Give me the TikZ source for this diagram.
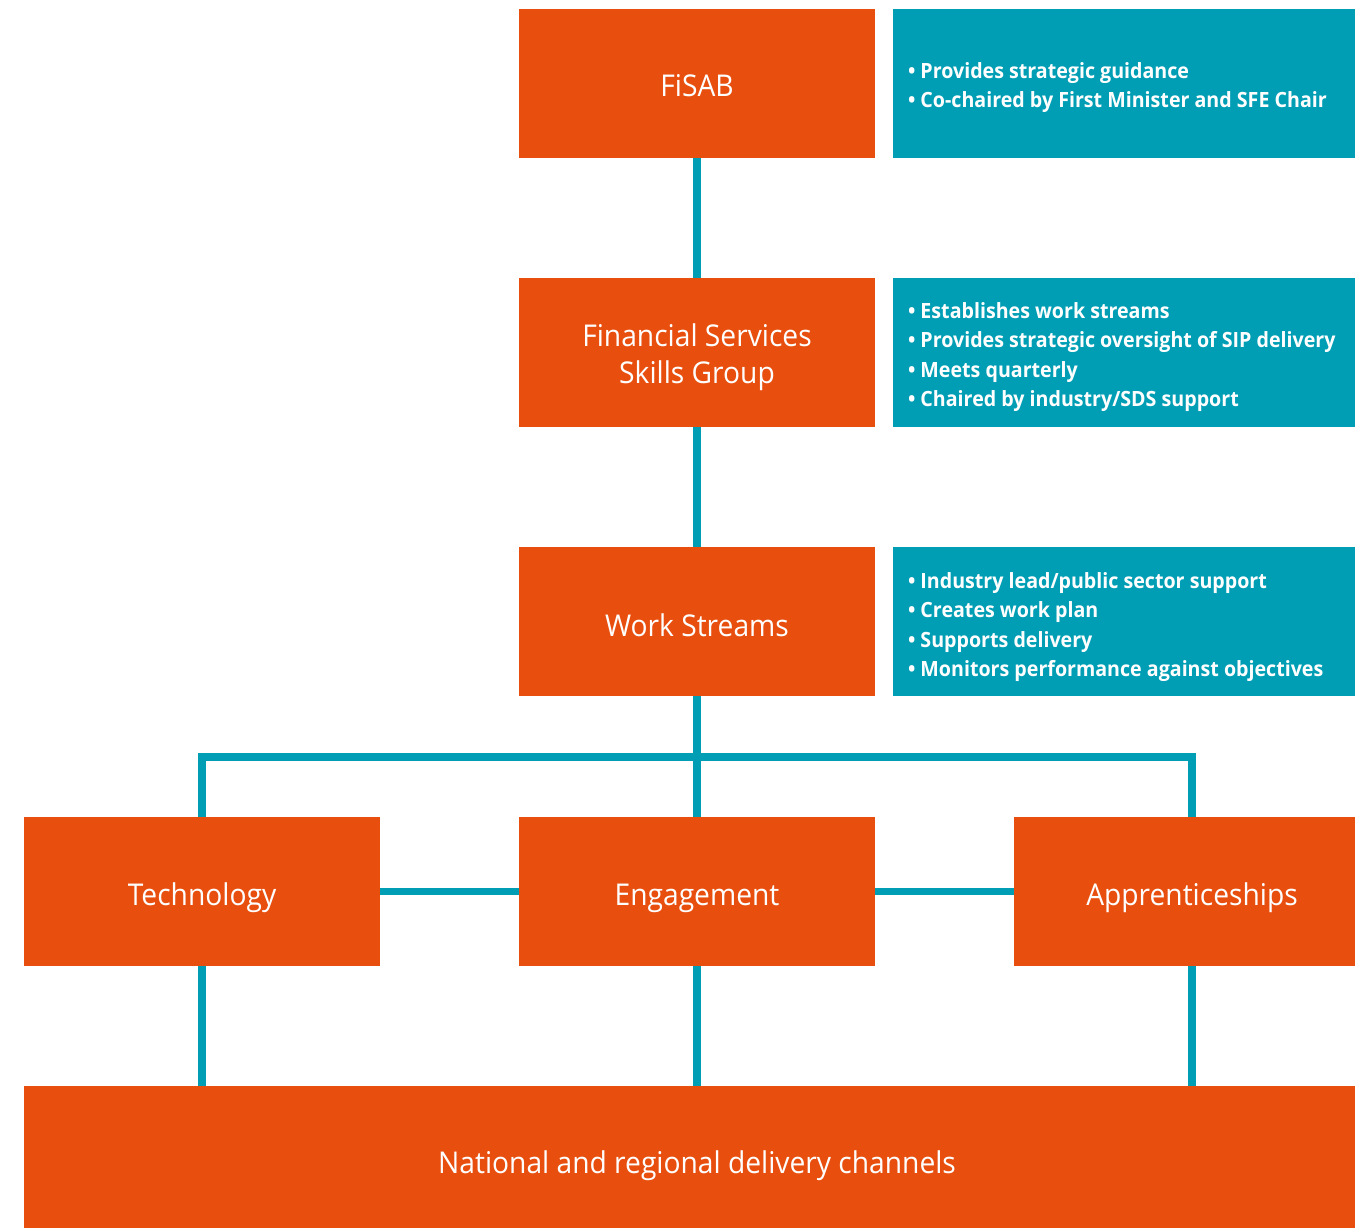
\documentclass[tikz,border=0pt]{standalone}
\usepackage{fontspec}
\setmainfont{Open Sans}
\newfontfamily\titlefont[FakeStretch=0.94]{Open Sans}
\newfontfamily\bulletfont[FakeStretch=0.935]{Open Sans}
\definecolor{boxorange}{RGB}{232,79,15}
\definecolor{boxteal}{RGB}{0,158,181}
% place a title so that its (first) baseline lies #1 below the box centre
\newcommand{\titletext}[2][13.5pt]{\raisebox{-#1}[0pt][0pt]{#2}}
\newcommand{\tealtext}[2]{\raisebox{#1}[0pt][0pt]{\parbox[t]{432pt}{\raggedright #2}}}
\begin{document}
\begin{tikzpicture}[x=1pt,y=-1pt,
  orangebox/.style={fill=boxorange,draw=none,minimum width=356pt,minimum height=149pt,
    text=white,align=center,font=\titlefont\fontsize{30}{36.7}\selectfont,inner sep=0pt},
  tealbox/.style={fill=boxteal,draw=none,minimum width=462pt,minimum height=149pt,
    text=white,inner xsep=15pt,inner ysep=0pt,
    font=\bulletfont\bfseries\fontsize{21}{29.3}\selectfont},
  link/.style={draw=boxteal,line width=7.5pt,line join=miter}]
\useasboundingbox (0,0) rectangle (1355,1228);
% boxes
\node[orangebox] (fisab) at (697,83.5) {\titletext{FiSAB}};
\node[tealbox] (t1) at (1124,83.5) {\tealtext{4.8pt}{\textbullet\ Provides strategic guidance\\\textbullet\ Co-chaired by First Minister and SFE Chair}};
\node[orangebox] (fssg) at (697,352.5) {\raisebox{5.8pt}[0pt][0pt]{\parbox[t]{356pt}{\centering Financial Services\\Skills Group}}};
\node[tealbox] (t2) at (1124,352.5) {\tealtext{34pt}{\textbullet\ Establishes work streams\\\textbullet\ Provides strategic oversight of SIP delivery\\\textbullet\ Meets quarterly\\\textbullet\ Chaired by industry/SDS support}};
\node[orangebox] (ws) at (697,621.5) {\titletext[14.5pt]{Work Streams}};
\node[tealbox] (t3) at (1124,621.5) {\tealtext{33pt}{\textbullet\ Industry lead/public sector support\\\textbullet\ Creates work plan\\\textbullet\ Supports delivery\\\textbullet\ Monitors performance against objectives}};
\node[orangebox] (tech) at (202,891.5) {\titletext{Technology}};
\node[orangebox] (eng) at (697,891.5) {\titletext{Engagement}};
\node[orangebox] (app) at (1192,891.5) {\titletext{Apprenticeships}};
\node[orangebox,minimum width=1346pt] (nat) at (697,1160.5) {\titletext[12.8pt]{National and regional delivery channels}};
% junction of the branch line
\coordinate (j) at (697,757);
% connectors
\draw[link] (fisab.south) -- (fssg.north);
\draw[link] (fssg.south) -- (ws.north);
\draw[link] (ws.south) -- (eng.north);
\draw[link] (tech.north) |- (j) -| (app.north);
\draw[link] (tech.east) -- (eng.west);
\draw[link] (eng.east) -- (app.west);
\draw[link] (tech.south) -- (tech.south |- nat.north);
\draw[link] (eng.south) -- (eng.south |- nat.north);
\draw[link] (app.south) -- (app.south |- nat.north);
\end{tikzpicture}
\end{document}
